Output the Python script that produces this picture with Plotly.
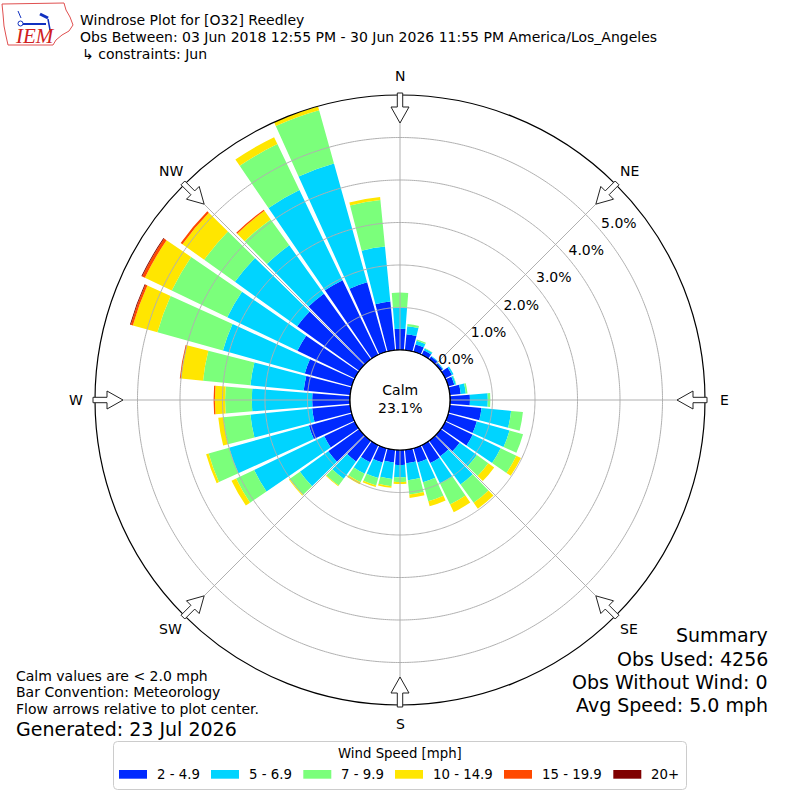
import numpy as np
import plotly.graph_objects as go

W = H = 800

# ---------------- data ----------------
directions = list(range(0, 360, 10))
speed_labels = ["2 - 4.9", "5 - 6.9", "7 - 9.9", "10 - 14.9", "15 - 19.9", "20+"]
speed_colors = ["#002aff", "#00d4ff", "#7bff7b", "#ffe600", "#ff4900", "#800000"]

spd_2_5 = [0.50, 0.38, 0.18, 0.12, 0.08, 0.06, 0.18, 0.15, 0.26, 0.47,
           0.75, 0.70, 0.72, 0.55, 0.45, 0.47, 0.35, 0.32, 0.35, 0.30,
           0.35, 0.45, 0.60, 0.90, 0.80, 1.05, 0.90, 0.89, 1.10, 1.15,
           1.50, 1.80, 1.90, 1.95, 1.70, 1.15]
spd_5_7 = [0.50, 0.19, 0.09, 0.05, 0.02, 0.02, 0.04, 0.04, 0.12, 0.42,
           0.70, 0.80, 0.73, 0.50, 0.82, 0.53, 0.48, 0.40, 0.29, 0.39,
           0.38, 0.30, 0.50, 0.82, 1.83, 1.95, 1.46, 1.42, 1.26, 2.00,
           1.83, 1.80, 1.40, 2.35, 2.90, 1.30]
spd_7_10 = [0.35, 0.05, 0.03, 0.01, 0.00, 0.00, 0.00, 0.01, 0.04, 0.06,
            0.28, 0.33, 0.41, 0.33, 0.53, 0.55, 0.47, 0.34, 0.11, 0.17,
            0.18, 0.22, 0.20, 0.30, 0.47, 0.50, 0.64, 0.63, 1.12, 1.60,
            1.45, 0.89, 0.75, 1.20, 1.30, 1.10]
spd_10_15 = [0.00, 0.00, 0.00, 0.00, 0.00, 0.00, 0.00, 0.00, 0.00, 0.00,
             0.00, 0.00, 0.12, 0.17, 0.17, 0.20, 0.12, 0.08, 0.05, 0.04,
             0.04, 0.05, 0.02, 0.02, 0.12, 0.06, 0.12, 0.24, 0.52, 0.60,
             0.70, 0.63, 0.25, 0.18, 0.10, 0.07]
spd_15_20 = [0.00, 0.00, 0.00, 0.00, 0.00, 0.00, 0.00, 0.00, 0.00, 0.00,
             0.00, 0.00, 0.00, 0.00, 0.00, 0.00, 0.00, 0.00, 0.00, 0.00,
             0.00, 0.00, 0.00, 0.00, 0.00, 0.00, 0.00, 0.03, 0.03, 0.05,
             0.07, 0.05, 0.03, 0.00, 0.00, 0.00]
spd_20p = [0.00, 0.00, 0.00, 0.00, 0.00, 0.00, 0.00, 0.00, 0.00, 0.00,
           0.00, 0.00, 0.00, 0.00, 0.00, 0.00, 0.00, 0.00, 0.00, 0.00,
           0.00, 0.00, 0.00, 0.00, 0.00, 0.00, 0.00, 0.00, 0.00, 0.02,
           0.02, 0.00, 0.00, 0.00, 0.00, 0.00]
speed_series = [spd_2_5, spd_5_7, spd_7_10, spd_10_15, spd_15_20, spd_20p]

radial_ticks = [0, 1, 2, 3, 4, 5]
radial_max = 6
compass_angles = [0, 45, 90, 135, 180, 225, 270, 315]
compass_labels = ["N", "NE", "E", "SE", "S", "SW", "W", "NW"]
calm_pct = 23.1
station_title = "Windrose Plot for [O32] Reedley"
period_text = "Obs Between: 03 Jun 2018 12:55 PM - 30 Jun 2026 11:55 PM America/Los_Angeles"
constraint_text = "\u21b3 constraints: Jun"
notes = ["Calm values are < 2.0 mph", "Bar Convention: Meteorology",
         "Flow arrows relative to plot center."]
generated = "Generated: 23 Jul 2026"
summary = ["Summary", "Obs Used: 4256", "Obs Without Wind: 0", "Avg Speed: 5.0 mph"]

# ---------------- geometry helpers ----------------
FONT = "DejaVu Sans"
CX, CY, R_OUT, R_HOLE = 400.0, 400.0, 305.0, 50.0
R_LABEL = 324.0


def px(x):
    return x / W


def py(y):
    return 1 - y / H


fig = go.Figure()

for name, vals, col in zip(speed_labels, speed_series, speed_colors):
    fig.add_trace(go.Barpolar(r=vals, theta=directions, width=8.8, name=name,
                              marker=dict(color=col, line=dict(width=0)),
                              showlegend=False))

# grid drawn above bars (as in matplotlib)
ring_theta = np.linspace(0, 360, 721)
for rv in radial_ticks[1:]:
    fig.add_trace(go.Scatterpolar(r=[rv] * len(ring_theta), theta=ring_theta, mode="lines",
                                  line=dict(color="#b0b0b0", width=1), hoverinfo="skip",
                                  showlegend=False))
for a in compass_angles:
    fig.add_trace(go.Scatterpolar(r=[0, radial_max], theta=[a, a], mode="lines",
                                  line=dict(color="#b0b0b0", width=1), hoverinfo="skip",
                                  showlegend=False))
# calm circle edge
fig.add_trace(go.Scatterpolar(r=[0] * len(ring_theta), theta=ring_theta, mode="lines",
                              line=dict(color="black", width=1.2), hoverinfo="skip",
                              showlegend=False))
# radial labels
fig.add_trace(go.Scatterpolar(r=radial_ticks, theta=[50] * len(radial_ticks), mode="text",
                              text=[f"{v:.1f}%" for v in radial_ticks],
                              textposition="top right",
                              textfont=dict(family=FONT, size=14, color="black"),
                              cliponaxis=False, hoverinfo="skip", showlegend=False))

fig.update_layout(
    width=W, height=H, margin=dict(l=0, r=0, t=0, b=0),
    paper_bgcolor="white", plot_bgcolor="white",
    font=dict(family=FONT, color="black"),
    polar=dict(
        domain=dict(x=[(CX - R_OUT) / W, (CX + R_OUT) / W],
                    y=[1 - (CY + R_OUT) / H, 1 - (CY - R_OUT) / H]),
        hole=R_HOLE / R_OUT,
        bgcolor="white",
        barmode="stack",
        radialaxis=dict(range=[0, radial_max], showgrid=False, showticklabels=False,
                        showline=False, ticks=""),
        angularaxis=dict(rotation=90, direction="clockwise", tickmode="array",
                         tickvals=compass_angles, showticklabels=False,
                         showgrid=False, showline=True, linecolor="black", linewidth=1.2,
                         ticks=""),
    ),
)

shapes = []
annotations = []
# compass arrows and labels
for a, lab in zip(compass_angles, compass_labels):
    t = np.deg2rad(a)
    ux, uy = np.sin(t), -np.cos(t)
    vx, vy = np.cos(t), np.sin(t)

    def pt(r, w):
        return (CX + r * ux + w * vx, CY + r * uy + w * vy)

    pts = [pt(307, 2.7), pt(293, 2.7), pt(293, 9), pt(277, 0), pt(293, -9), pt(293, -2.7), pt(307, -2.7)]
    path = "M " + " L ".join(f"{px(x):.5f},{py(y):.5f}" for x, y in pts) + " Z"
    shapes.append(dict(type="path", path=path, xref="paper", yref="paper",
                       fillcolor="white", line=dict(color="#222222", width=1)))
    lx, ly = pt(R_LABEL, 0)
    annotations.append(dict(x=px(lx), y=py(ly), text=lab, xanchor="center", yanchor="middle",
                            showarrow=False, font=dict(family=FONT, size=14)))

# legend box (rounded)
lx0, lx1, ly0, ly1, rr = 113.5, 686.5, 741.5, 789.5, 4
lp = (f"M {px(lx0+rr)},{py(ly0)} L {px(lx1-rr)},{py(ly0)} Q {px(lx1)},{py(ly0)} {px(lx1)},{py(ly0+rr)} "
      f"L {px(lx1)},{py(ly1-rr)} Q {px(lx1)},{py(ly1)} {px(lx1-rr)},{py(ly1)} "
      f"L {px(lx0+rr)},{py(ly1)} Q {px(lx0)},{py(ly1)} {px(lx0)},{py(ly1-rr)} "
      f"L {px(lx0)},{py(ly0+rr)} Q {px(lx0)},{py(ly0)} {px(lx0+rr)},{py(ly0)} Z")
shapes.append(dict(type="path", path=lp, xref="paper", yref="paper",
                   fillcolor="white", line=dict(color="#cccccc", width=1)))
patch_x = [119, 211, 303.3, 395, 504, 613.3]
for x0, col, lab in zip(patch_x, speed_colors, speed_labels):
    shapes.append(dict(type="rect", xref="paper", yref="paper", x0=px(x0), x1=px(x0 + 28),
                       y0=py(778.7), y1=py(770), fillcolor=col, line=dict(width=0)))
    annotations.append(dict(x=px(x0 + 36), y=py(774.5), text=lab, xanchor="left", yanchor="middle",
                            showarrow=False, font=dict(family=FONT, size=13.3, color="black")))
annotations.append(dict(x=px(400), y=py(753), text="Wind Speed [mph]", xanchor="center",
                        yanchor="middle", showarrow=False, font=dict(family=FONT, size=13.3)))

# logo (IEM) approximation
iowa = [(2, 4), (64, 3), (66, 10), (70, 17), (73, 25), (69, 31), (62, 35), (56, 40), (53, 45),
        (8, 45), (6, 36), (4, 26), (3, 14)]
shapes.append(dict(type="path", xref="paper", yref="paper",
                   path="M " + " L ".join(f"{px(x)},{py(y)}" for x, y in iowa) + " Z",
                   line=dict(color="#e05050", width=1), fillcolor="rgba(0,0,0,0)"))
for (x0, y0, x1, y1, wd, c) in [(21, 24, 46, 24, 2, "#1030c0"), (40, 14, 48, 18, 3, "#1030c0"),
                                (48, 19, 50, 30, 1.5, "#1030c0"), (18, 11, 21, 18, 1, "#1030c0")]:
    shapes.append(dict(type="line", xref="paper", yref="paper", x0=px(x0), y0=py(y0), x1=px(x1),
                       y1=py(y1), line=dict(color=c, width=wd)))
shapes.append(dict(type="circle", xref="paper", yref="paper", x0=px(18), x1=px(23), y0=py(26),
                   y1=py(21), line=dict(color="#1030c0", width=1), fillcolor="white"))
annotations.append(dict(x=px(35), y=py(36), text="<i>IEM</i>", showarrow=False, xanchor="center",
                        yanchor="middle", font=dict(family="Liberation Serif", size=21, color="#d02020")))

# titles
for txt, y, x in [(station_title, 20, 78), (period_text, 37, 78), (constraint_text, 54, 80)]:
    annotations.append(dict(x=px(x), y=py(y), text=txt, xanchor="left", yanchor="middle",
                            showarrow=False, font=dict(family=FONT, size=14)))
for txt, y in zip(notes, [676, 692, 709]):
    annotations.append(dict(x=px(14), y=py(y), text=txt, xanchor="left", yanchor="middle",
                            showarrow=False, font=dict(family=FONT, size=14)))
annotations.append(dict(x=px(14), y=py(729), text=generated, xanchor="left", yanchor="middle",
                        showarrow=False, font=dict(family=FONT, size=19)))
for txt, y in zip(summary, [635, 659, 682, 705]):
    annotations.append(dict(x=px(770), y=py(y), text=txt, xanchor="right", yanchor="middle",
                            showarrow=False, font=dict(family=FONT, size=19)))
annotations.append(dict(x=px(CX), y=py(399), text=f"Calm<br>{calm_pct:.1f}%", xanchor="center",
                        yanchor="middle", showarrow=False, align="center",
                        font=dict(family=FONT, size=14)))

fig.update_layout(shapes=shapes, annotations=annotations)
fig.write_html("out.html", config={"displayModeBar": False},
               post_script="document.body.style.margin='0px';")
